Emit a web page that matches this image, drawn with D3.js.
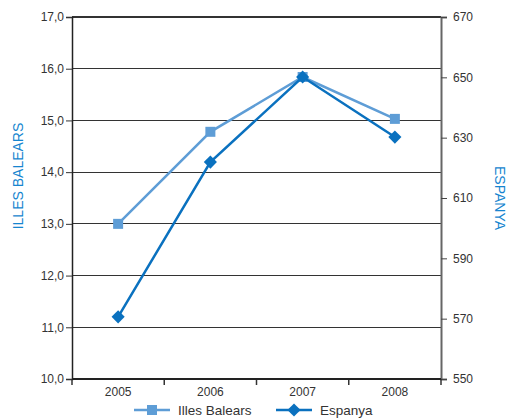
<!DOCTYPE html>
<html><head><meta charset="utf-8">
<script src="https://cdn.jsdelivr.net/npm/d3@7"></script>
<style>body{margin:0;background:#fff}svg{display:block;font-family:"Liberation Sans",Arial,sans-serif}</style>
</head><body>
<svg id="c" width="513" height="420"></svg>
<script>
const categories = ["2005","2006","2007","2008"];
const illesBalears = [13.0, 14.78, 15.84, 15.03];
const espanya = [570.6, 621.9, 650.1, 630.2];
const leftTicks = [10,11,12,13,14,15,16,17];
const rightTicks = [550,570,590,610,630,650,670];
const seriesNames = ["Illes Balears","Espanya"];

const svg = d3.select("#c");
const L = 72, R = 441, T = 17, B = 379;
const x = d3.scaleBand().domain(categories).range([L, R]);
const yL = d3.scaleLinear().domain([10,17]).range([B, T]);
const yR = d3.scaleLinear().domain([550,670]).range([B, T]);
const cIB = "#5e9dd6", cES = "#0a71bf", titleC = "#1685cf";
const fmt = d => d.toFixed(1).replace(".", ",");

// gridlines
svg.append("g").selectAll("line").data(leftTicks.filter(d => d > 10)).join("line")
  .attr("x1", L).attr("x2", R).attr("y1", d => yL(d)).attr("y2", d => yL(d))
  .attr("stroke", "#333").attr("stroke-width", d => d === 17 ? 2 : 1)
  .attr("shape-rendering", "crispEdges");

// left axis
const gl = svg.append("g").attr("transform", `translate(${L},0)`)
  .call(d3.axisLeft(yL).tickValues(leftTicks).tickFormat(fmt).tickSize(6).tickPadding(2));
gl.select(".domain").attr("stroke", "#222").attr("stroke-width", 1.5);
gl.selectAll(".tick line").attr("stroke", "#333");
gl.selectAll("text").attr("font-size", 12).attr("fill", "#333");

// right axis
const gr = svg.append("g").attr("transform", `translate(${R},0)`)
  .call(d3.axisRight(yR).tickValues(rightTicks).tickSize(6).tickPadding(6));
gr.select(".domain").attr("stroke", "#666").attr("stroke-width", 2);
gr.selectAll(".tick line").attr("stroke", "#444");
gr.selectAll("text").attr("font-size", 12).attr("fill", "#333");

// bottom axis
const gb = svg.append("g").attr("transform", `translate(0,${B})`)
  .call(d3.axisBottom(x).tickSize(0).tickPadding(8));
gb.select(".domain").remove();
gb.selectAll("text").attr("font-size", 12).attr("fill", "#333");
const bounds = categories.map(c => x(c)).concat([R]);
svg.append("g").selectAll("line").data(bounds).join("line")
  .attr("x1", d => d).attr("x2", d => d).attr("y1", B).attr("y2", B + 6)
  .attr("stroke", "#333").attr("stroke-width", 1.5);
svg.append("line").attr("x1", L).attr("x2", R).attr("y1", B).attr("y2", B)
  .attr("stroke", "#222").attr("stroke-width", 2);

// lines
const cx = d => x(d) + x.bandwidth() / 2;
const lineIB = d3.line().x((d, i) => cx(categories[i])).y(d => yL(d));
const lineES = d3.line().x((d, i) => cx(categories[i])).y(d => yR(d));
svg.append("path").datum(illesBalears).attr("d", lineIB).attr("fill", "none")
  .attr("stroke", cIB).attr("stroke-width", 2.5);
svg.append("g").selectAll("rect").data(illesBalears).join("rect")
  .attr("x", (d, i) => cx(categories[i]) - 5).attr("y", d => yL(d) - 5)
  .attr("width", 10).attr("height", 10).attr("fill", cIB);
svg.append("path").datum(espanya).attr("d", lineES).attr("fill", "none")
  .attr("stroke", cES).attr("stroke-width", 2.5);
const diamond = d3.symbol().type(d3.symbolDiamond2).size(110);
svg.append("g").selectAll("path").data(espanya).join("path")
  .attr("d", diamond).attr("transform", (d, i) => `translate(${cx(categories[i])},${yR(d)})`)
  .attr("fill", cES);

// axis titles
svg.append("text").attr("transform", "translate(23,176) rotate(-90)")
  .attr("text-anchor", "middle").attr("font-size", 14).attr("fill", titleC).text("ILLES BALEARS");
svg.append("text").attr("transform", "translate(495,198) rotate(90)")
  .attr("text-anchor", "middle").attr("font-size", 14).attr("fill", titleC).text("ESPANYA");

// legend
const lg = svg.append("g");
lg.append("line").attr("x1", 134).attr("x2", 170).attr("y1", 410).attr("y2", 410).attr("stroke", cIB).attr("stroke-width", 2.5);
lg.append("rect").attr("x", 147).attr("y", 405).attr("width", 10).attr("height", 10).attr("fill", cIB);
lg.append("text").attr("x", 178).attr("y", 415).attr("font-size", 13.5).attr("fill", "#333").text(seriesNames[0]);
lg.append("line").attr("x1", 276).attr("x2", 312).attr("y1", 410).attr("y2", 410).attr("stroke", cES).attr("stroke-width", 2.5);
lg.append("path").attr("d", diamond).attr("transform", "translate(294,410)").attr("fill", cES);
lg.append("text").attr("x", 320).attr("y", 415).attr("font-size", 13.5).attr("fill", "#333").text(seriesNames[1]);
</script>
</body></html>
